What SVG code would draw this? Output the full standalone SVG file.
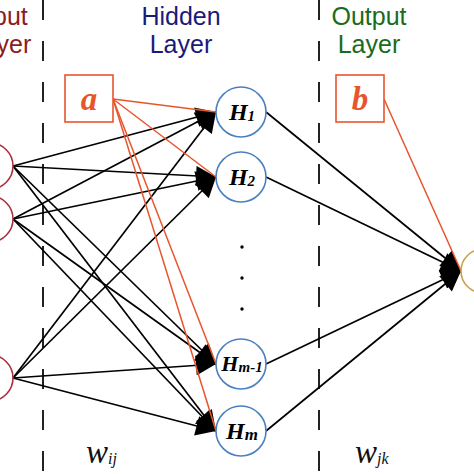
<svg xmlns="http://www.w3.org/2000/svg" width="474" height="474" viewBox="0 0 474 474">
<defs>
<marker id="ah" viewBox="0 0 20 20" refX="20" refY="10" markerWidth="23" markerHeight="20" markerUnits="userSpaceOnUse" orient="auto">
<path d="M0,0 L20,10 L0,20 z" fill="#000"/>
</marker>
</defs>
<style>
.lbl{font-family:"Liberation Sans",Arial,sans-serif;font-size:25px;text-anchor:middle}
.dash{stroke:#222;stroke-width:2;stroke-dasharray:20 21;fill:none}
.arr{stroke:#000;stroke-width:1.7;fill:none;marker-end:url(#ah)}
.red{stroke:#e8552d;stroke-width:1.5;fill:none}
.hid{fill:#fff;stroke:#4a7fbf;stroke-width:1.6}
.inp{fill:#fff;stroke:#a8303c;stroke-width:1.6}
.out{fill:#fff;stroke:#c9a34a;stroke-width:1.6}
.ht{font-family:"Liberation Serif","Times New Roman",serif;font-weight:bold;font-style:italic;font-size:24px;text-anchor:middle;fill:#000}
.sub{font-size:15px}
.bias{fill:#fff;stroke:#e8552d;stroke-width:1.6}
.bt{font-family:"Liberation Serif","Times New Roman",serif;font-weight:bold;font-style:italic;font-size:33px;text-anchor:middle;fill:#e8552d}
.wt{font-family:"Liberation Serif","Times New Roman",serif;font-style:italic;fill:#111}
</style>
<rect width="474" height="474" fill="#fff"/>
<g id="labels">
<text class="lbl" x="0" y="25" fill="#8b1c24">Input</text>
<text class="lbl" x="0" y="53" fill="#8b1c24">Layer</text>
<text class="lbl" x="181" y="25" fill="#1a1a7a">Hidden</text>
<text class="lbl" x="181" y="53" fill="#1a1a7a">Layer</text>
<text class="lbl" x="369" y="25" fill="#1a6b1a">Output</text>
<text class="lbl" x="369" y="53" fill="#1a6b1a">Layer</text>
</g>
<g id="dividers">
<line class="dash" x1="43" y1="0" x2="43" y2="474"/>
<line class="dash" x1="319" y1="0" x2="319" y2="474"/>
</g>
<g id="connectors">
<line class="arr" x1="13" y1="166" x2="216" y2="112"/>
<line class="arr" x1="13" y1="166" x2="216" y2="177"/>
<line class="arr" x1="13" y1="166" x2="216" y2="364"/>
<line class="arr" x1="13" y1="166" x2="216" y2="431"/>
<line class="arr" x1="13" y1="219" x2="216" y2="112"/>
<line class="arr" x1="13" y1="219" x2="216" y2="177"/>
<line class="arr" x1="13" y1="219" x2="216" y2="364"/>
<line class="arr" x1="13" y1="219" x2="216" y2="431"/>
<line class="arr" x1="13" y1="378" x2="216" y2="112"/>
<line class="arr" x1="13" y1="378" x2="216" y2="177"/>
<line class="arr" x1="13" y1="378" x2="216" y2="364"/>
<line class="arr" x1="13" y1="378" x2="216" y2="431"/>
<line class="arr" x1="266" y1="112" x2="461" y2="271"/>
<line class="arr" x1="266" y1="177" x2="461" y2="271"/>
<line class="arr" x1="266" y1="364" x2="461" y2="271"/>
<line class="arr" x1="266" y1="431" x2="461" y2="271"/>
<line class="red" x1="113" y1="99" x2="216" y2="112"/>
<line class="red" x1="113" y1="99" x2="216" y2="177"/>
<line class="red" x1="113" y1="99" x2="216" y2="364"/>
<line class="red" x1="113" y1="99" x2="216" y2="431"/>
<line class="red" x1="384" y1="99" x2="461" y2="271"/>
</g>
<g id="input1"><circle class="inp" cx="-10" cy="166" r="23"/></g>
<g id="input2"><circle class="inp" cx="-10" cy="219" r="23"/></g>
<g id="input3"><circle class="inp" cx="-10" cy="378" r="23"/></g>
<g id="biasA">
<rect class="bias" x="65" y="75" width="48" height="47"/>
<text class="bt" x="89" y="110">a</text>
</g>
<g id="biasB">
<rect class="bias" x="336" y="75" width="48" height="47"/>
<text class="bt" x="360" y="110">b</text>
</g>
<g id="H1">
<circle class="hid" cx="241" cy="112" r="25"/>
<text class="ht" x="242" y="120">H<tspan class="sub" dy="1">1</tspan></text>
</g>
<g id="H2">
<circle class="hid" cx="241" cy="177" r="25"/>
<text class="ht" x="242" y="185">H<tspan class="sub" dy="1">2</tspan></text>
</g>
<g id="dots" fill="#000">
<circle cx="242" cy="247" r="1.7"/>
<circle cx="242" cy="278" r="1.7"/>
<circle cx="242" cy="309" r="1.7"/>
</g>
<g id="Hm1">
<circle class="hid" cx="241" cy="364" r="25"/>
<text class="ht" x="242" y="371" style="font-size:22px">H<tspan class="sub" dy="1">m-1</tspan></text>
</g>
<g id="Hm">
<circle class="hid" cx="241" cy="431" r="25"/>
<text class="ht" x="242" y="439">H<tspan class="sub" dy="1" style="font-size:17px">m</tspan></text>
</g>
<g id="output"><circle class="out" cx="483" cy="271" r="22"/></g>
<g id="weights">
<text class="wt" x="86" y="463" style="font-size:33px">w<tspan style="font-size:16px" dy="1">ij</tspan></text>
<text class="wt" x="355" y="463" style="font-size:33px">w<tspan style="font-size:16px" dy="1">jk</tspan></text>
</g>
</svg>
